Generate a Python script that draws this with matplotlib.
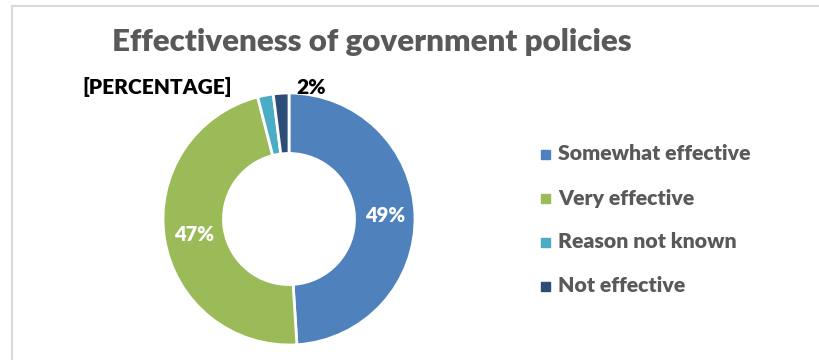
import matplotlib
matplotlib.use("Agg")
import matplotlib.pyplot as plt
from matplotlib.patches import Rectangle
from matplotlib.lines import Line2D
import numpy as np

categories = ["Somewhat effective", "Very effective", "Reason not known", "Not effective"]
values = [49, 47, 2, 2]
colors = ["#4F81BD", "#9BBB59", "#4BACC6", "#2C4D75"]
inside_labels = ["49%", "47%", None, None]
outside_labels = [None, None, "[PERCENTAGE]", "2%"]

W, H = 819, 360
fig = plt.figure(figsize=(W / 100, H / 100), dpi=100)
plt.rcParams['font.family'] = ['Lato', 'DejaVu Sans']
WT = 800

# border lines (chart area frame)
fig.add_artist(Line2D([12 / W, 12 / W], [0, 1 - 5.5 / H], color="#D9D9D9", lw=1.5, transform=fig.transFigure))
fig.add_artist(Line2D([12 / W, 1], [1 - 5.5 / H, 1 - 5.5 / H], color="#D9D9D9", lw=1.5, transform=fig.transFigure))

cx, cy, R = 289, 219, 126
ax = fig.add_axes([(cx - R) / W, (H - cy - R) / H, 2 * R / W, 2 * R / H])
wedges, _ = ax.pie(values, colors=colors, startangle=90, counterclock=False, radius=1,
                   wedgeprops=dict(width=0.48, edgecolor="white", linewidth=2))
ax.set_xlim(-1, 1)
ax.set_ylim(-1, 1)
ax.axis("off")

for w, lab in zip(wedges, inside_labels):
    if lab:
        ang = np.deg2rad((w.theta1 + w.theta2) / 2)
        r = 0.765
        ax.text(r * np.cos(ang), r * np.sin(ang), lab, ha="center", va="center",
                color="white", fontsize=14.5, fontweight=WT)

# outside labels (manually positioned in the original)
out_pos = {2: (-1.05, 1.045), 3: (0.175, 1.045)}
for i, lab in enumerate(outside_labels):
    if lab:
        x, y = out_pos[i]
        ax.text(x, y, lab, ha="center", va="center", color="black",
                fontsize=15, fontweight=WT, clip_on=False)

fig.text(372 / W, 1 - 42 / H, "Effectiveness of government policies", ha="center", va="center",
         color="#595959", fontsize=22.5, fontweight=WT)

# legend
ys = [154, 198, 242, 286]
for c, lab, y in zip(colors, categories, ys):
    fig.add_artist(Rectangle(((541) / W, 1 - (y + 4.5) / H), 9 / W, 9 / H, color=c,
                             transform=fig.transFigure))
    fig.text(558 / W, 1 - y / H, lab, ha="left", va="center", color="#595959",
             fontsize=15.3, fontweight=WT)

fig.savefig("out.png", dpi=100, facecolor="white")
